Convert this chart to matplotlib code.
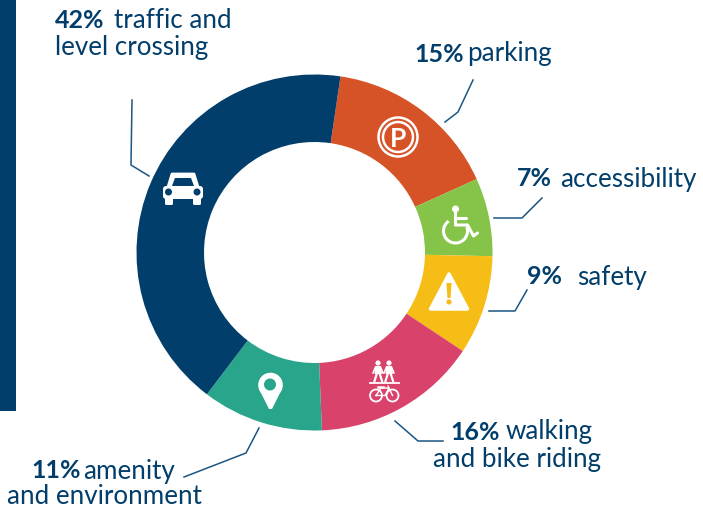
import matplotlib
matplotlib.use('Agg')
import matplotlib.pyplot as plt
from matplotlib.patches import Circle, Rectangle, Polygon, FancyBboxPatch, Arc

plt.rcParams['font.family'] = ['Lato', 'DejaVu Sans']

NAVY = '#023e6b'

# Shares as measured round the ring, clockwise from the orange slice
categories = ['parking', 'accessibility', 'safety', 'walking and bike riding',
              'amenity and environment', 'traffic and level crossing']
shares = [15.9, 7.1, 9.0, 15.0, 11.0, 42.0]
colours = ['#d65227', '#86c449', '#f6bd16', '#d9426a', '#29a58b', NAVY]

# (x, y, bold part, x of regular part, regular part)
labels = [
    (55, 20, '42%', 114, 'traffic and'),
    (55, 47, '', 55, 'level crossing'),
    (414, 54, '15%', 467, 'parking'),
    (517, 179, '7%', 560, 'accessibility'),
    (527, 277, '9%', 577, 'safety'),
    (450, 432, '16%', 506, 'walking'),
    (433, 459, '', 433, 'and bike riding'),
    (31, 471, '11%', 83, 'amenity'),
    (7, 496, '', 7, 'and environment'),
]

leaders = [
    [(132, 100), (131, 165), (149, 176)],
    [(473, 80), (458, 112), (445, 122)],
    [(542, 198), (522, 218), (494, 218)],
    [(527, 290), (515, 311), (489, 311)],
    [(395, 421), (418, 441), (443, 441)],
    [(184, 477), (246, 453), (259, 428)],
]


def draw_car(ax, x, y, bg):
    ax.add_patch(FancyBboxPatch((x - 20, y - 2), 40, 13, boxstyle='round,pad=0,rounding_size=3', fc='white', ec='none'))
    ax.add_patch(Polygon([(x - 15, y - 1), (x - 11, y - 14), (x + 11, y - 14), (x + 15, y - 1)], fc='white', ec='white', lw=2, joinstyle='round'))
    ax.add_patch(Polygon([(x - 11, y - 2), (x - 8, y - 10), (x + 8, y - 10), (x + 11, y - 2)], fc=bg, ec='none'))
    ax.add_patch(FancyBboxPatch((x - 18, y + 8), 8, 9, boxstyle='round,pad=0,rounding_size=1.5', fc='white', ec='none'))
    ax.add_patch(FancyBboxPatch((x + 10, y + 8), 8, 9, boxstyle='round,pad=0,rounding_size=1.5', fc='white', ec='none'))
    ax.add_patch(Circle((x - 14.5, y + 4), 3.5, fc=bg, ec='none'))
    ax.add_patch(Circle((x + 14, y + 4), 3.5, fc=bg, ec='none'))


def draw_parking(ax, x, y):
    ax.add_patch(Circle((x, y), 19.5, fc='none', ec='white', lw=1.8))
    ax.add_patch(Circle((x, y), 15, fc='none', ec='white', lw=1.8))
    ax.text(x, y, 'P', color='white', fontsize=19, fontweight='bold', ha='center', va='center_baseline')


def draw_wheelchair(ax, x, y):
    kw = dict(color='white', lw=2.2, solid_capstyle='round')
    ax.add_patch(Circle((x, y - 21), 3.5, fc='white', ec='none'))
    ax.plot([x, x, x + 12, x + 18, x + 22], [y - 18, y - 5, y - 5, y + 6, y + 3], **kw)
    ax.plot([x, x + 10], [y - 12, y - 12], **kw)
    ax.add_patch(Arc((x, y + 1), 24, 24, theta1=-20, theta2=235, color='white', lw=2.2))


def draw_warning(ax, x, y):
    ax.add_patch(Polygon([(x, y - 17), (x + 18.5, y + 18), (x - 18.5, y + 18)], fc='white', ec='white', lw=2.5, joinstyle='round'))
    ax.add_patch(Polygon([(x - 2.6, y - 8), (x + 2.6, y - 8), (x + 1.5, y + 7), (x - 1.5, y + 7)], fc='#f6bd16', ec='none'))
    ax.add_patch(Circle((x, y + 11), 2.6, fc='#f6bd16', ec='none'))


def draw_walker(ax, x, y):
    ax.add_patch(Circle((x, y - 8), 2.6, fc='white', ec='none'))
    ax.add_patch(Polygon([(x - 2.8, y - 5), (x + 2.8, y - 5), (x + 4, y + 3), (x - 3.5, y + 3)], fc='white', ec='none'))
    ax.plot([x - 1.3, x - 3.5], [y + 3, y + 10], color='white', lw=1.6)
    ax.plot([x + 1.8, x + 4], [y + 3, y + 10], color='white', lw=1.6)
    ax.plot([x - 2.5, x - 5], [y - 4, y + 2], color='white', lw=1.1)
    ax.plot([x + 2.5, x + 5], [y - 4, y + 2], color='white', lw=1.1)


def draw_walk_bike(ax, x, y):
    draw_walker(ax, x - 6, y - 10)
    draw_walker(ax, x + 5, y - 10)
    ax.plot([x - 14.5, x + 14.5], [y + 1.5, y + 1.5], color='white', lw=1.3)
    ax.add_patch(Circle((x - 8, y + 14.5), 6, fc='none', ec='white', lw=1.3))
    ax.add_patch(Circle((x + 8.5, y + 14.5), 6, fc='none', ec='white', lw=1.3))
    ax.plot([x - 8, x - 3, x + 5, x + 1, x - 8], [y + 14.5, y + 7, y + 7, y + 14.5, y + 14.5], color='white', lw=1)
    ax.plot([x + 4, x + 8.5], [y + 5, y + 14.5], color='white', lw=1)
    ax.plot([x - 6, x - 1], [y + 5.5, y + 5.5], color='white', lw=1.8)


def draw_pin(ax, x, y, bg):
    ax.add_patch(Circle((x, y), 12.3, fc='white', ec='none'))
    ax.add_patch(Polygon([(x - 11.5, y + 4), (x + 11.5, y + 4), (x + 1.5, y + 24), (x - 1.5, y + 24)], fc='white', ec='none'))
    ax.add_patch(Circle((x - 0.5, y - 0.5), 6, fc=bg, ec='none'))


fig = plt.figure(figsize=(7.03, 5.08), dpi=100)
ax = fig.add_axes([0, 0, 1, 1])

# y runs downward, so angles go clockwise from +x
ax.pie(shares, colors=colours, center=(314.5, 252.5), radius=178, startangle=-81.6,
       wedgeprops=dict(width=67.5, linewidth=0))
ax.set_xlim(0, 703)
ax.set_ylim(508, 0)
ax.set_aspect('auto')
ax.axis('off')

ax.add_patch(Rectangle((0, 0), 16, 411, fc=NAVY, ec='none'))

for line in leaders:
    ax.plot([p[0] for p in line], [p[1] for p in line], color='#1b5582', lw=1.1, zorder=3)

for x, y, bold, x2, regular in labels:
    if bold:
        ax.text(x, y, bold, color=NAVY, fontsize=18, fontweight='bold', ha='left', va='center')
    ax.text(x2, y, regular, color=NAVY, fontsize=18.7, ha='left', va='center')

draw_car(ax, 183, 188, NAVY)
draw_parking(ax, 398, 137)
draw_wheelchair(ax, 455.5, 230)
draw_warning(ax, 449, 291)
draw_walk_bike(ax, 384, 381)
draw_pin(ax, 270.5, 385, '#29a58b')

fig.savefig('out.png', dpi=100)
